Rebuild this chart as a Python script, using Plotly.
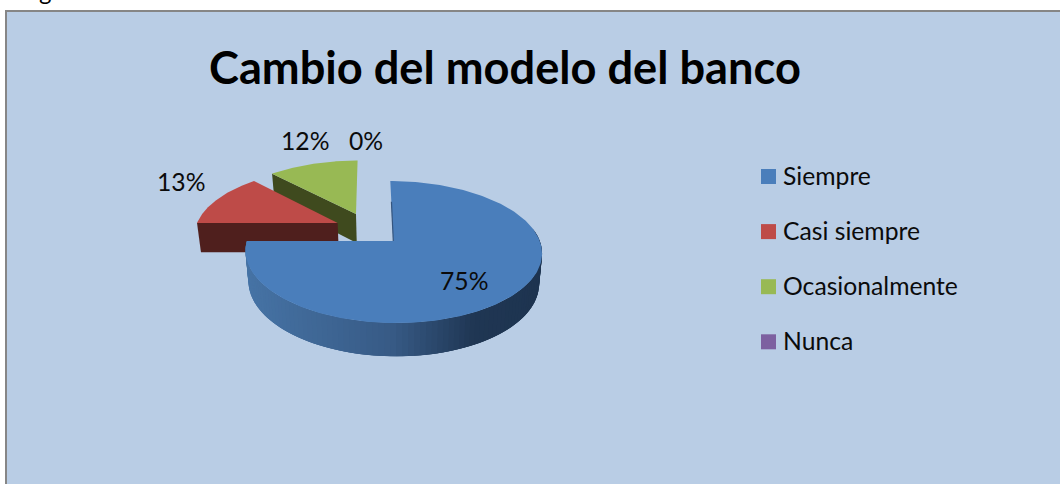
import numpy as np
import plotly.graph_objects as go

categories = ["Siempre", "Casi siempre", "Ocasionalmente", "Nunca"]
values = [75, 13, 12, 0]
face_colors = ["#4a7ebb", "#be4b48", "#98b954", "#7d60a0"]
cut_colors = ["#2f4f78", "#4f1f1d", "#3f4a1e", "#3f2f55"]
# exploded slices are shifted on the pie's ground plane, in radius units
pulls = [(0.0, 0.0), (-0.39, 0.27), (-0.262, 0.414), (0.0, 0.0)]
title_text = "Cambio del modelo del banco"

W, H = 1060, 484
FONT = "Lato"
BG = "#b9cde5"

# camera used to flatten the pie's ground plane onto the page
APEX_X, APEX_Y = 393.3, 241.0
RADIUS, TILT, PERSP, SHEAR = 146.5, 32.0, 0.155, 3.0
FLOOR_Y, FLOOR_GROW, FLOOR_SHRINK = 271.0, 1.04, 0.98


def top_plane(px, py):
    d = 1 + PERSP * py
    return APEX_X - SHEAR * py + RADIUS * px / d, (APEX_Y - TILT * py) / d


def floor_plane(px, py):
    sx, sy = top_plane(px, py)
    return APEX_X + (sx - APEX_X) * FLOOR_SHRINK, FLOOR_Y + (sy - APEX_Y) * FLOOR_GROW


def arc(a0, a1, pull, n=80):
    t = np.radians(np.linspace(a0, a1, n))
    return pull[0] + np.sin(t), pull[1] + np.cos(t)


def blend(stops, f):
    xs = [s[0] for s in stops]
    ch = [np.interp(f, xs, [int(s[1][i:i + 2], 16) for s in stops]) for i in (1, 3, 5)]
    return "rgb({:.0f},{:.0f},{:.0f})".format(*ch)


def poly(xs, ys, color):
    return go.Scatter(x=xs, y=ys, mode="lines", fill="toself", fillcolor=color,
                      line=dict(color=color, width=0), hoverinfo="skip", showlegend=False)


shares = np.array(values, float) / sum(values)
ends = np.cumsum(shares) * 360
starts = ends - shares * 360

fig = go.Figure()

# rear slices first so the large slice overlaps them
for i in (2, 1):
    p = pulls[i]
    ax, ay = arc(starts[i], ends[i], p)
    # straight cut facing the viewer, at the slice's starting angle
    cx = np.array([p[0], p[0] + np.sin(np.radians(starts[i]))])
    cy = np.array([p[1], p[1] + np.cos(np.radians(starts[i]))])
    tx, ty = top_plane(cx, cy)
    fx, fy = floor_plane(cx, cy)
    fig.add_trace(poly([*tx, *fx[::-1], tx[0]], [*ty, *fy[::-1], ty[0]], cut_colors[i]))
    sx, sy = top_plane(np.r_[p[0], ax, p[0]], np.r_[p[1], ay, p[1]])
    fig.add_trace(poly(sx, sy, face_colors[i]))

# rim of the large slice, shaded from left to right; each band runs under the next
rim_stops = [(0.0, "#4673a5"), (0.5, "#375a85"), (0.78, "#1f3653"), (1.0, "#1e3450")]
edges = np.linspace(80, 270, 96)
step = edges[1] - edges[0]
for a0 in edges[:-1]:
    ax, ay = arc(a0, min(a0 + 3 * step, 270), pulls[0], n=6)
    tx, ty = top_plane(ax, ay)
    fx, fy = floor_plane(ax, ay)
    mx, _ = top_plane(*arc(a0, a0 + step, pulls[0], n=3))
    f = (mx.mean() - APEX_X + RADIUS) / (2 * RADIUS)
    fig.add_trace(poly([*tx, *fx[::-1], tx[0]], [*ty, *fy[::-1], ty[0]], blend(rim_stops, f)))

ax, ay = arc(starts[0], ends[0], pulls[0], n=240)
sx, sy = top_plane(np.r_[0, ax, 0], np.r_[0, ay, 0])
fig.add_trace(poly(sx, sy, face_colors[0]))

# thin sliver of the inner cut along the slice's straight edge
gx, gy = top_plane(np.array([0.0, 0.0]), np.array([0.0, 0.62]))
fig.add_trace(go.Scatter(x=gx, y=gy, mode="lines", line=dict(color="#34557f", width=1.2),
                         hoverinfo="skip", showlegend=False))

# legend keys
LEG_X, LEG_Y, LEG_STEP = 768.5, 176.5, 55.1
for i, name in enumerate(categories):
    fig.add_trace(go.Scatter(x=[LEG_X], y=[LEG_Y + i * LEG_STEP], mode="markers", name=name,
                             marker=dict(symbol="square", size=15, color=face_colors[i]),
                             hoverinfo="name", showlegend=False))

annotations = [
    dict(x=504.5, y=66, text=f"<b>{title_text}</b>", font=dict(size=45.2, family=FONT, color="#000000")),
]
for i, name in enumerate(categories):
    annotations.append(dict(x=781, y=LEG_Y + i * LEG_STEP - 1, text=name, xanchor="left",
                            font=dict(size=24.7, family=FONT, color="#0b0b0b")))
label_pos = [(464, 280), (181, 181), (305, 140), (366, 140)]
for v, (lx, ly) in zip(values, label_pos):
    annotations.append(dict(x=lx, y=ly, text=f"{v}%", font=dict(size=24.7, family=FONT, color="#0b0b0b")))
for a in annotations:
    a.update(xref="x", yref="y", showarrow=False)
    a.setdefault("xanchor", "center")
    a.setdefault("yanchor", "middle")

# descender of the caption line above the chart, cut off by the page edge
annotations.append(dict(x=45 / W, y=1, xref="paper", yref="paper", text="g", showarrow=False,
                        xanchor="center", yanchor="bottom", yshift=-7,
                        font=dict(size=24, family=FONT, color="#000000")))

fig.update_layout(
    width=W, height=H, autosize=False,
    margin=dict(l=0, r=0, t=0, b=0),
    paper_bgcolor="#ffffff", plot_bgcolor="#ffffff",
    xaxis=dict(range=[0, W], visible=False, fixedrange=True),
    yaxis=dict(range=[H, 0], visible=False, fixedrange=True),
    shapes=[dict(type="rect", xref="x", yref="y", x0=6, y0=11, x1=W + 5, y1=H + 5, layer="below",
                 fillcolor=BG, line=dict(color="#868686", width=2))],
    annotations=annotations,
    showlegend=False,
)
fig.write_html("out.html", config={"displayModeBar": False})
